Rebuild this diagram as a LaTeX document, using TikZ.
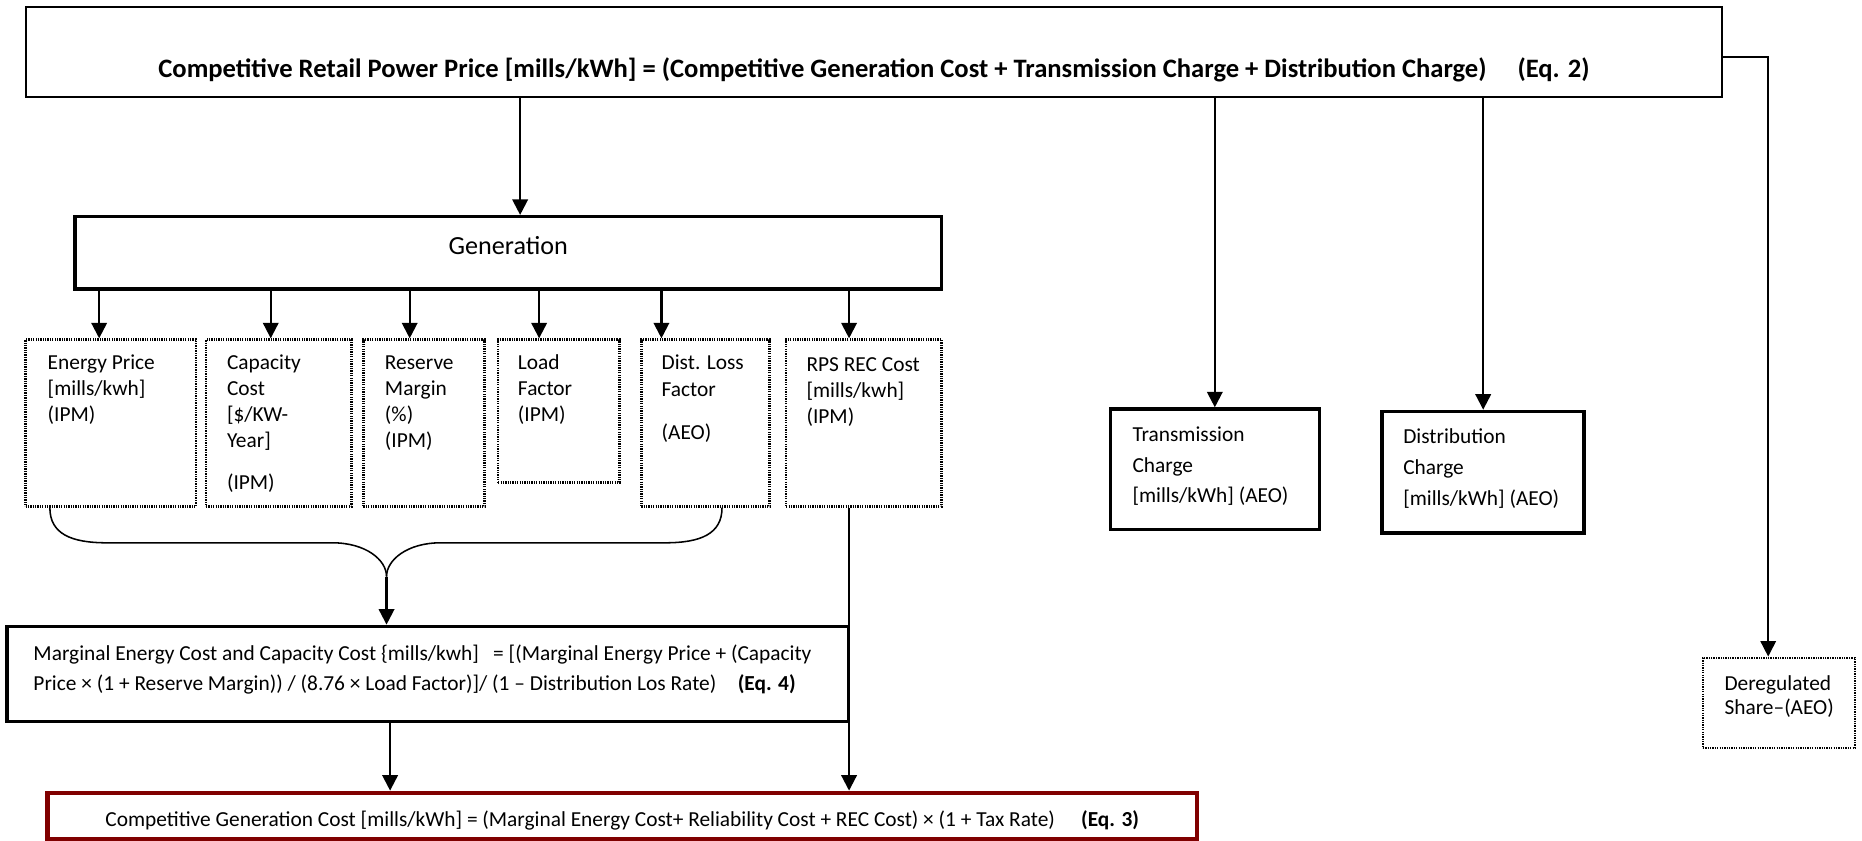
\documentclass[tikz,border=0pt]{standalone}
\usepackage{fontspec}
\setmainfont{Carlito}
\usetikzlibrary{arrows.meta,fit}
\definecolor{darkred}{RGB}{128,0,0}
\begin{document}
\begin{tikzpicture}[x=1pt,y=-1pt,
  solidbox/.style={draw, line width=1.7pt, inner sep=0pt},
  thickbox/.style={draw, line width=3pt, inner sep=0pt},
  dotbox/.style={draw, line width=2.2pt, dash pattern=on 1.1pt off 0.9pt, inner sep=0pt},
  redbox/.style={draw=darkred, line width=3.4pt, inner sep=0pt},
  conn/.style={line width=1.8pt},
  arr/.style={conn, -{Triangle[width=13pt,length=13pt]}},
  txt/.style={inner sep=0pt, anchor=base west, align=left, font=\fontsize{18}{22}\selectfont},
]
\useasboundingbox (0,0) rectangle (1568,708);

% boxes
\node[solidbox, fit={(22,5.5) (1450,82)}] (top) {};
\node[thickbox, fit={(63,182.5) (793,243.5)}] (gen) {};
\node[dotbox, fit={(21.5,286) (165,426.5)}] (ep) {};
\node[dotbox, fit={(173.5,286) (296,426.5)}] (cc) {};
\node[dotbox, fit={(306,286) (408,426.5)}] (rm) {};
\node[dotbox, fit={(419.5,286) (521.5,406.5)}] (lf) {};
\node[dotbox, fit={(540,286) (648,426.5)}] (dl) {};
\node[dotbox, fit={(662,286) (793,426.5)}] (rps) {};
\node[thickbox, fit={(935,344.5) (1111,446)}] (tc) {};
\node[thickbox, fit={(1164,346.5) (1334,449)}] (dc) {};
\node[dotbox, fit={(1434,554) (1562,630)}] (dr) {};
\node[thickbox, fit={(6,527.5) (714.5,607.5)}] (mg) {};
\node[redbox, fit={(40,667.5) (1008,706.5)}] (cg) {};

% texts (multi-line nodes: base = baseline of last line)
\node[inner sep=0pt, anchor=base, font=\fontsize{22.4}{26}\selectfont\bfseries] (ttop) at (736,65)
  {Competitive Retail Power Price [mills/kWh] = (Competitive Generation Cost + Transmission Charge + Distribution Charge)\hspace{26pt}(Eq. 2)};
\node[inner sep=0pt, anchor=base, font=\fontsize{22}{26}\selectfont] (tgen) at (428,214) {Generation};
\node[txt] (tep) at (40,355) {Energy Price\\{}[mills/kwh]\\(IPM)};
\node[txt] (tcc) at (191,412) {Capacity\\Cost\\{}[\$/KW-\\Year]\\[13pt](IPM)};
\node[txt] (trm) at (324,377) {Reserve\\Margin\\(\%)\\(IPM)};
\node[txt] (tlf) at (436,355) {Load\\Factor\\(IPM)};
\node[txt] (tdl) at (557,370) {Dist. Loss\\Factor\\[14.5pt](AEO)};
\node[txt] (trps) at (679,356.5) {RPS REC Cost\\{}[mills/kwh]\\(IPM)};
\node[txt, font=\fontsize{18}{26}\selectfont] (ttc) at (953.5,423.5) {Transmission\\Charge\\{}[mills/kWh] (AEO)};
\node[txt, font=\fontsize{18}{26}\selectfont] (tdc) at (1181.5,425.5) {Distribution\\Charge\\{}[mills/kWh] (AEO)};
\node[txt, font=\fontsize{18}{20.5}\selectfont] (tdr) at (1452,602) {Deregulated\\Share--(AEO)};
\node[txt, font=\fontsize{18}{25.5}\selectfont] (tmg) at (28,581.5)
  {Marginal Energy Cost and Capacity Cost \{mills/kwh]\hspace{12pt}= [(Marginal Energy Price + (Capacity\\Price × (1 + Reserve Margin)) / (8.76 × Load Factor)]/ (1 -- Distribution Los Rate)\hspace{18pt}\textbf{(Eq. 4)}};
\node[inner sep=0pt, anchor=base, font=\fontsize{18}{22}\selectfont] (tcg) at (524,696)
  {Competitive Generation Cost [mills/kWh] = (Marginal Energy Cost+ Reliability Cost + REC Cost) × (1 + Tax Rate)\hspace{22pt}\textbf{(Eq. 3)}};

% connector coordinates
\coordinate (xg) at (438,0);
\coordinate (a1) at (83.5,0);
\coordinate (a2) at (228,0);
\coordinate (a3) at (345,0);
\coordinate (a4) at (454,0);
\coordinate (a5) at (557,0);
\coordinate (a6) at (715,0);
\coordinate (rc) at (1489,48);
\coordinate (b1) at (42,0);
\coordinate (b2) at (608,0);
\coordinate (bm) at (325.5,485.5);
\coordinate (m1) at (328.5,0);

% connectors
\draw[arr] (top.south -| xg) -- (gen.north -| xg);
\draw[arr] (top.south -| tc.north) -- (tc.north);
\draw[arr] (top.south -| dc.north) -- (dc.north);
\draw[line width=1.4pt, -{Triangle[width=13pt,length=13pt]}] (top.east |- rc) -- (rc) -- (dr.north -| rc);

\draw[arr] (gen.south -| a1) -- (ep.north -| a1);
\draw[arr] (gen.south -| a2) -- (cc.north -| a2);
\draw[arr] (gen.south -| a3) -- (rm.north -| a3);
\draw[arr] (gen.south -| a4) -- (lf.north -| a4);
\draw[arr] (gen.south -| a5) -- (dl.north -| a5);
\draw[arr] (gen.south -| a6) -- (rps.north -| a6);

% brace
\draw[line width=1.3pt] (ep.south -| b1) .. controls ++(0,22) and ++(-30,0) .. ++(48,29.5)
  -- ++(190,0) .. controls ++(28,0) and ++(0,-14) .. (bm);
\draw[line width=1.3pt] (dl.south -| b2) .. controls ++(0,22) and ++(30,0) .. ++(-48,29.5)
  -- ++(-189,0) .. controls ++(-28,0) and ++(0,-14) .. (bm);
\draw[arr] (bm) -- (mg.north -| bm);

\draw[arr] (mg.south -| m1) -- (cg.north -| m1);
\draw[arr] (rps.south -| a6) -- (cg.north -| a6);
\end{tikzpicture}
\end{document}
